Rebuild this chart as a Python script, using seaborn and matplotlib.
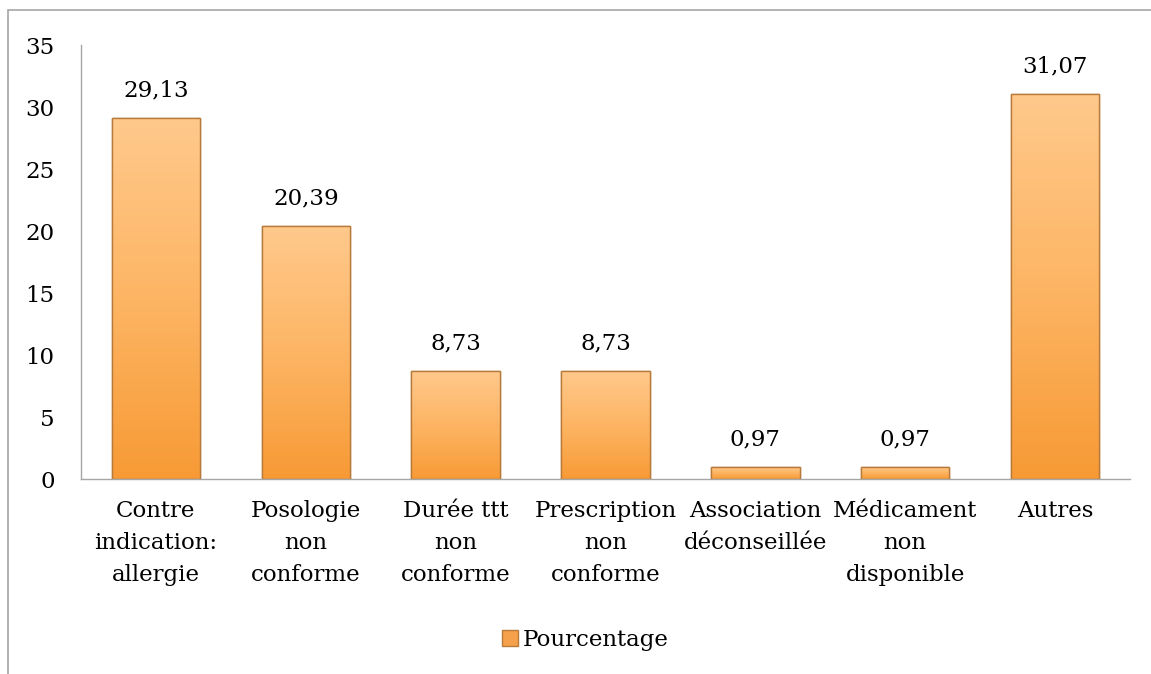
import numpy as np
import pandas as pd
import seaborn as sns
import matplotlib.pyplot as plt
from matplotlib.colors import LinearSegmentedColormap
from matplotlib.patches import Rectangle

categories = ["Contre\nindication:\nallergie", "Posologie\nnon\nconforme",
              "Durée ttt\nnon\nconforme", "Prescription\nnon\nconforme",
              "Association\ndéconseillée", "Médicament\nnon\ndisponible", "Autres"]
values = [29.13, 20.39, 8.73, 8.73, 0.97, 0.97, 31.07]
labels = ["29,13", "20,39", "8,73", "8,73", "0,97", "0,97", "31,07"]
series_name = "Pourcentage"

df = pd.DataFrame({"cat": categories, "val": values})

sns.set_style("white")
plt.rcParams["font.family"] = ["DejaVu Serif"]
plt.rcParams["text.color"] = "black"
plt.rcParams["xtick.color"] = "black"
plt.rcParams["ytick.color"] = "black"

fs = 16.5

fig = plt.figure(figsize=(11.51, 6.74), dpi=100)
ax = fig.add_axes([81 / 1151, 1 - 479 / 674, (1130 - 81) / 1151, (479 - 45) / 674])

sns.barplot(data=df, x="cat", y="val", color="#F9A947", width=0.59,
            edgecolor="#B87A3A", linewidth=1.0, ax=ax, label=series_name)

# gradient fill, light top -> darker orange at the bottom
cmap = LinearSegmentedColormap.from_list("orng", ["#F79A35", "#FDB564", "#FFC98C"])
grad = np.linspace(0, 1, 256).reshape(-1, 1)
for p in ax.patches:
    x0, y0 = p.get_x(), p.get_y()
    w, h = p.get_width(), p.get_height()
    im = ax.imshow(grad, cmap=cmap, aspect="auto", origin="lower",
                   extent=[x0, x0 + w, y0, y0 + h], zorder=p.get_zorder() + 0.1)
    im.set_clip_path(p)
    edge = Rectangle((x0, y0), w, h, fill=False, edgecolor="#B87A3A",
                     linewidth=1.0, zorder=p.get_zorder() + 0.2)
    ax.add_patch(edge)

for p, lab in zip(ax.patches[:len(values)], labels):
    ax.annotate(lab, (p.get_x() + p.get_width() / 2, p.get_height()),
                xytext=(0, 12), textcoords="offset points",
                ha="center", va="bottom", fontsize=fs)

ax.set_xlim(-0.5, len(categories) - 0.5)
ax.set_ylim(0, 35)
ax.set_yticks(range(0, 36, 5))
ax.set_xlabel("")
ax.set_ylabel("")
ax.tick_params(axis="both", length=0, labelsize=fs)
ax.tick_params(axis="y", pad=19)
ax.tick_params(axis="x", pad=15)
for lab in ax.get_xticklabels():
    lab.set_linespacing(1.6)

for s in ["top", "right"]:
    ax.spines[s].set_visible(False)
for s in ["left", "bottom"]:
    ax.spines[s].set_color("#A6A6A6")
    ax.spines[s].set_linewidth(1.0)

leg = ax.legend(loc="center", bbox_to_anchor=(585 / 1151, 1 - 640 / 674),
                bbox_transform=fig.transFigure, frameon=False, fontsize=fs,
                handlelength=0.7, handleheight=0.7, handletextpad=0.2)
for h in leg.legend_handles:
    h.set_facecolor("#F5A04A")
    h.set_edgecolor("#B87A3A")

# outer chart frame
fig.patches.append(Rectangle((8 / 1151, -0.1), 1.2, 1.1 - 10 / 674,
                             transform=fig.transFigure, fill=False,
                             edgecolor="#A6A6A6", linewidth=1.2))

fig.savefig("out.png", dpi=100)
